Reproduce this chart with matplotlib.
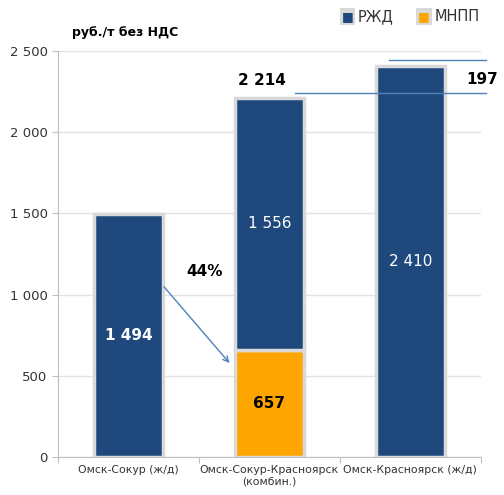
import matplotlib
matplotlib.use('Agg')
from matplotlib import pyplot as plt

categories = ["Омск-Сокур (ж/д)", "Омск-Сокур-Красноярск\n(комбин.)", "Омск-Красноярск (ж/д)"]
rzd = [1494, 1556, 2410]
mnpp = [0, 657, 0]
total_combined = 2214
diff = 197
share = "44%"

navy = "#1F497D"
orange = "#FFA500"
edge = "#D9D9D9"

fig = plt.figure(figsize=(5.04, 4.95), dpi=100)
ax = fig.add_axes([0.115, 0.077, 0.839, 0.820])

x = range(len(categories))
ax.bar(x, mnpp, width=0.49, color=orange, edgecolor=edge, linewidth=2.5, zorder=3)
ax.bar(x, rzd, bottom=mnpp, width=0.49, color=navy, edgecolor=edge, linewidth=2.5, zorder=3)

ax.set_xlim(-0.5, 2.5)
ax.set_ylim(0, 2500)
ax.set_yticks(range(0, 2501, 500))
ax.set_yticklabels(["0", "500", "1 000", "1 500", "2 000", "2 500"], fontsize=9.5, color="#333333")
ax.grid(axis="y", color="#E3E3E3", linewidth=1, zorder=0)
ax.set_xticks([-0.5, 0.5, 1.5, 2.5])
ax.set_xticklabels([])
ax.set_xticks(list(x), minor=True)
ax.set_xticklabels(categories, minor=True, fontsize=7.8, color="#333333")
ax.tick_params(axis="x", which="minor", length=0, pad=6)
ax.tick_params(axis="x", which="major", length=4, color="#BFBFBF")
ax.tick_params(axis="y", length=4, color="#BFBFBF")
for s in ["top", "right"]:
    ax.spines[s].set_visible(False)
ax.spines["left"].set_color("#BFBFBF")
ax.spines["bottom"].set_color("#BFBFBF")

# value labels
ax.text(0, rzd[0] / 2, "1 494", ha="center", va="center", color="white", fontsize=11, fontweight="bold", zorder=4)
ax.text(1, mnpp[1] + rzd[1] / 2, "1 556", ha="center", va="center", color="white", fontsize=11, zorder=4)
ax.text(2, rzd[2] / 2, "2 410", ha="center", va="center", color="white", fontsize=11, zorder=4)
ax.text(1, mnpp[1] / 2, "657", ha="center", va="center", color="black", fontsize=11, fontweight="bold", zorder=4)

# 2 214 and difference
ax.text(0.95, total_combined + 60, "2 214", ha="center", va="bottom", fontsize=11, fontweight="bold")
ax.plot([1.18, 2.54], [total_combined + 25, total_combined + 25], color="#4F81BD", linewidth=1, clip_on=False, zorder=5)
ax.plot([1.85, 2.54], [rzd[2] + 35, rzd[2] + 35], color="#4F81BD", linewidth=1, clip_on=False, zorder=5)
ax.text(2.625, total_combined + diff * 0.55, str(diff), ha="right", va="center", fontsize=11, fontweight="bold")

# arrow with share
ax.annotate("", xy=(0.73, 565), xytext=(0.24, 1060),
            arrowprops=dict(arrowstyle="->", color="#4F81BD", linewidth=1))
ax.text(0.54, 1140, share, ha="center", va="center", fontsize=11, fontweight="bold")

fig.text(0.143, 0.935, "руб./т без НДС", fontsize=9, fontweight="bold", ha="left", va="center")

# legend
fig.text(0.678, 0.966, "■", color=navy, fontsize=9, ha="left", va="center",
         bbox=dict(boxstyle="square,pad=0.15", facecolor=edge, edgecolor="none"))
fig.text(0.71, 0.966, "РЖД", fontsize=10.5, ha="left", va="center", color="#333333")
fig.text(0.830, 0.966, "■", color=orange, fontsize=9, ha="left", va="center",
         bbox=dict(boxstyle="square,pad=0.15", facecolor=edge, edgecolor="none"))
fig.text(0.862, 0.966, "МНПП", fontsize=10.5, ha="left", va="center", color="#333333")

plt.savefig("out.png", dpi=100)
